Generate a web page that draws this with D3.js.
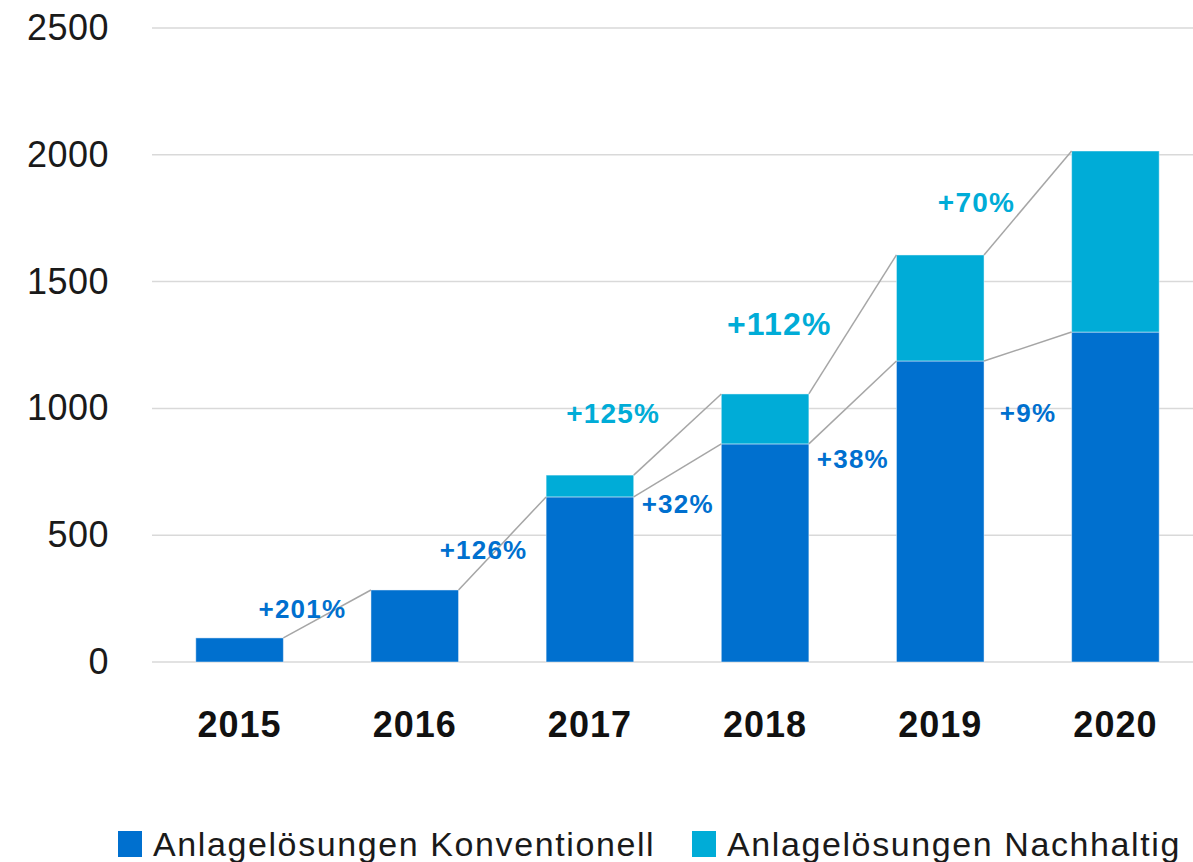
<!DOCTYPE html>
<html>
<head>
<meta charset="utf-8">
<script src="https://cdn.jsdelivr.net/npm/d3@7"></script>
<style>
    body { margin: 0; background: #fff; }
    svg { display: block; font-family: "Liberation Sans", Arial, sans-serif; }
</style>
</head>
<body>
<div id="chart"></div>
<script>
// data
const years = ['2015', '2016', '2017', '2018', '2019', '2020'];
const konventionell = [95, 284, 651, 860, 1187, 1301];
const nachhaltig = [0, 0, 86, 197, 418, 714];
const yTicks = [0, 500, 1000, 1500, 2000, 2500];
const seriesNames = ['Anlagelösungen Konventionell', 'Anlagelösungen Nachhaltig'];
const growthKonv = ['+201%', '+126%', '+32%', '+38%', '+9%'];
const growthNach = ['+125%', '+112%', '+70%'];

const width = 1193;
const height = 862;
const colorKonv = '#0070cf';
const colorNach = '#00acd7';
const gridColor = '#d9d9d9';
const lineColor = '#a6a6a6';

const x = d3.scaleBand()
    .domain(years)
    .range([152, 1203])
    .paddingInner(0.5)
    .paddingOuter(0.25);

const y = d3.scaleLinear()
    .domain([0, 2500])
    .range([662, 28]);

const svg = d3.select('#chart')
  .append('svg')
    .attr('width', width)
    .attr('height', height);

// grid
svg.append('g')
    .selectAll('line')
    .data(yTicks)
    .enter()
  .append('line')
    .attr('x1', 152)
    .attr('x2', width)
    .attr('y1', d => y(d))
    .attr('y2', d => y(d))
    .attr('stroke', gridColor)
    .attr('stroke-width', 1.5);

// y labels
svg.append('g')
    .selectAll('text')
    .data(yTicks)
    .enter()
  .append('text')
    .attr('x', 109)
    .attr('y', d => y(d) + 12)
    .attr('text-anchor', 'end')
    .style('font-size', '36px')
    .style('letter-spacing', '0.5px')
    .style('fill', '#1a1a1a')
    .text(d => d);

// stacked bars
const rows = years.map((yr, i) => ({ year: yr, konv: konventionell[i], nach: nachhaltig[i] }));
const stacked = d3.stack().keys(['konv', 'nach'])(rows);
const colors = [colorKonv, colorNach];

svg.append('g')
    .selectAll('g')
    .data(stacked)
    .enter()
  .append('g')
    .attr('fill', (d, i) => colors[i])
    .selectAll('rect')
    .data(d => d.filter(p => p[1] > p[0]))
    .enter()
  .append('rect')
    .attr('x', d => x(d.data.year))
    .attr('width', x.bandwidth())
    .attr('y', d => y(d[1]))
    .attr('height', d => y(d[0]) - y(d[1]))
    .attr('stroke', 'rgba(255,255,255,0.45)')
    .attr('stroke-width', 1);

// connector lines: conventional from first bar, total from where sustainable starts
const bw = x.bandwidth();
function connectors(values, start) {
    const segs = [];
    for (let i = start; i < years.length - 1; i++) {
        segs.push([x(years[i]) + bw, y(values[i]), x(years[i + 1]), y(values[i + 1])]);
    }
    return segs;
}
const totals = konventionell.map((v, i) => v + nachhaltig[i]);
const segs = connectors(konventionell, 0).concat(connectors(totals, 2));

svg.append('g')
    .selectAll('line')
    .data(segs)
    .enter()
  .append('line')
    .attr('x1', d => d[0])
    .attr('y1', d => d[1])
    .attr('x2', d => d[2])
    .attr('y2', d => d[3])
    .attr('stroke', lineColor)
    .attr('stroke-width', 1.5);

// growth labels (placement: offset from bar, height in value units)
const konvLayout = [
    { dx: 19, v: 173 },
    { dx: 25, v: 406 },
    { dx: 44, v: 588 },
    { dx: 44, v: 765 },
    { dx: 44, v: 946 }
];
const nachLayout = [
    { bar: 2, dx: 67, v: 942, size: 28 },
    { bar: 3, dx: 58, v: 1289, size: 32 },
    { bar: 4, dx: 80, v: 1774, size: 28 }
];

svg.append('g')
    .selectAll('text')
    .data(growthKonv)
    .enter()
  .append('text')
    .attr('x', (d, i) => x(years[i]) + bw + konvLayout[i].dx)
    .attr('y', (d, i) => y(konvLayout[i].v))
    .attr('text-anchor', 'middle')
    .style('font-size', '26px')
    .style('font-weight', 'bold')
    .style('letter-spacing', '1.2px')
    .style('fill', colorKonv)
    .text(d => d);

svg.append('g')
    .selectAll('text')
    .data(growthNach)
    .enter()
  .append('text')
    .attr('x', (d, i) => x(years[nachLayout[i].bar]) + nachLayout[i].dx)
    .attr('y', (d, i) => y(nachLayout[i].v))
    .attr('text-anchor', 'middle')
    .style('font-size', (d, i) => nachLayout[i].size + 'px')
    .style('font-weight', 'bold')
    .style('letter-spacing', '1.2px')
    .style('fill', colorNach)
    .text(d => d);

// x labels
svg.append('g')
    .selectAll('text')
    .data(years)
    .enter()
  .append('text')
    .attr('x', d => x(d) + bw / 2)
    .attr('y', 737)
    .attr('text-anchor', 'middle')
    .style('font-size', '36px')
    .style('font-weight', 'bold')
    .style('letter-spacing', '1px')
    .style('fill', '#111')
    .text(d => d);

// legend
const legendX = [118, 692];
const legend = svg.append('g')
    .selectAll('g')
    .data(seriesNames)
    .enter()
  .append('g')
    .attr('transform', (d, i) => `translate(${legendX[i]}, 831)`);

legend.append('rect')
    .attr('width', 24)
    .attr('height', 26)
    .attr('fill', (d, i) => colors[i]);

legend.append('text')
    .attr('x', 35)
    .attr('y', 25)
    .style('font-size', '34px')
    .style('letter-spacing', '1.6px')
    .style('fill', '#1a1a1a')
    .text(d => d);
</script>
</body>
</html>
